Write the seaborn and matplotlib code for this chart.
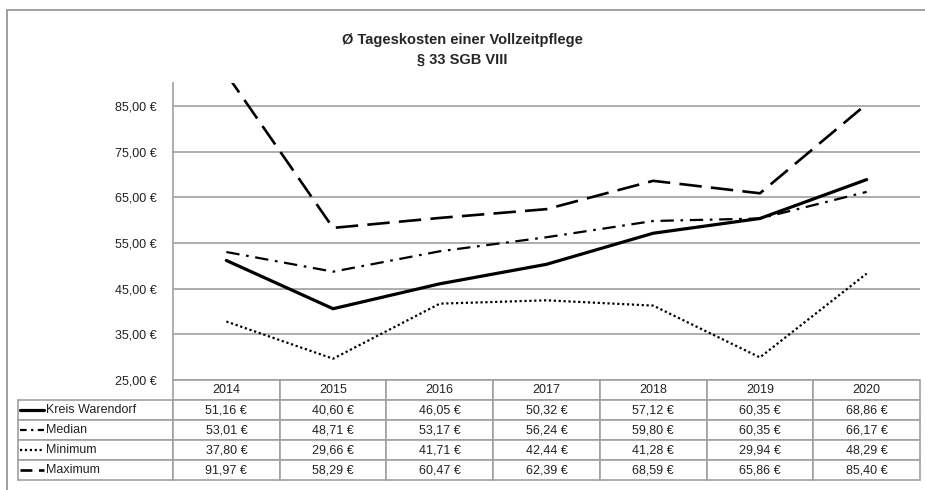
import matplotlib
matplotlib.use("Agg")
import matplotlib.pyplot as plt
from matplotlib.lines import Line2D
from matplotlib.patches import Rectangle
import seaborn as sns
import pandas as pd

years = ["2014", "2015", "2016", "2017", "2018", "2019", "2020"]
kreis = [51.16, 40.60, 46.05, 50.32, 57.12, 60.35, 68.86]
median = [53.01, 48.71, 53.17, 56.24, 59.80, 60.35, 66.17]
minimum = [37.80, 29.66, 41.71, 42.44, 41.28, 29.94, 48.29]
maximum = [91.97, 58.29, 60.47, 62.39, 68.59, 65.86, 85.40]
series_names = ["Kreis Warendorf", "Median", "Minimum", "Maximum"]
y_ticks = [25, 35, 45, 55, 65, 75, 85]

values = {"Kreis Warendorf": kreis, "Median": median, "Minimum": minimum, "Maximum": maximum}
styles = {
    "Kreis Warendorf": dict(lw=2.3, dashes=""),
    "Median": dict(lw=1.6, dashes=(6, 3, 1.2, 3)),
    "Minimum": dict(lw=1.6, dashes=(1, 1.2)),
    "Maximum": dict(lw=1.9, dashes=(8.5, 3.5)),
}
# shorter patterns for the little keys in the table
key_dashes = {
    "Kreis Warendorf": "",
    "Median": (3, 2, 1, 2),
    "Minimum": (1, 1.2),
    "Maximum": (4.5, 2.5),
}

sns.set_style("white")
plt.rcParams["font.family"] = ["Liberation Sans Narrow", "Liberation Sans", "DejaVu Sans"]

fig = plt.figure(figsize=(9.25, 4.9), dpi=100)
ax = fig.add_axes([173 / 925, 110 / 490, 747 / 925, 297 / 490])

for name in series_names:
    df = pd.DataFrame({"pos": range(len(years)), "val": values[name]})
    st = styles[name]
    sns.lineplot(data=df, x="pos", y="val", ax=ax, color="black", lw=st["lw"])
    if st["dashes"]:
        ax.lines[-1].set_dashes(st["dashes"])

ax.set_xlim(-0.5, 6.5)
ax.set_ylim(25, 90)
ax.set_yticks(y_ticks)
ax.set_yticklabels([f"{v},00 €" for v in y_ticks], fontsize=9, color="#222222")
ax.set_xticks([])
ax.set_xlabel("")
ax.set_ylabel("")
ax.tick_params(axis="y", length=0, pad=12)
ax.yaxis.grid(True, color="#a0a0a0", lw=1.2)
for s in ["top", "right", "bottom"]:
    ax.spines[s].set_visible(False)
ax.spines["left"].set_color("#a0a0a0")
ax.spines["left"].set_linewidth(1.2)

# first column holds the row labels (drawn separately with legend keys)
cell_text = [[""] + [f"{v:.2f} €".replace(".", ",") for v in values[n]] for n in series_names]
rl_w = 155 / 747
tbl = ax.table(cellText=cell_text, colLabels=[""] + years,
               colWidths=[rl_w] + [1 / 7] * 7, cellLoc="center",
               bbox=[-rl_w, -100 / 297, 1 + rl_w, 100 / 297])
tbl.auto_set_font_size(False)
tbl.set_fontsize(9)
for (r, c), cell in tbl.get_celld().items():
    cell.set_edgecolor("#a0a0a0")
    cell.set_linewidth(1.2)
    cell.get_text().set_color("#222222")
tbl[(0, 0)].set_visible(False)

# legend keys inside the row label cells
for i, name in enumerate(series_names):
    yy = 1 - (410 + 20 * i) / 490
    st = styles[name]
    ln = Line2D([20 / 925, 44 / 925], [yy, yy], transform=fig.transFigure,
                color="black", lw=st["lw"])
    if key_dashes[name]:
        ln.set_dashes(key_dashes[name])
    fig.add_artist(ln)
    fig.text(46 / 925, yy, name, ha="left", va="center", fontsize=9, color="#222222")

fig.add_artist(Rectangle((7 / 925, -0.1), 1, 1 - 10 / 490 + 0.1, transform=fig.transFigure,
                         fill=False, edgecolor="#909090", lw=1.2))

fig.text(0.5, 1 - 40 / 490, "Ø Tageskosten einer Vollzeitpflege", ha="center", va="center",
         fontsize=10.5, fontweight="bold")
fig.text(0.5, 1 - 60 / 490, "§ 33 SGB VIII", ha="center", va="center",
         fontsize=10.5, fontweight="bold")

fig.savefig("out.png", dpi=100)
